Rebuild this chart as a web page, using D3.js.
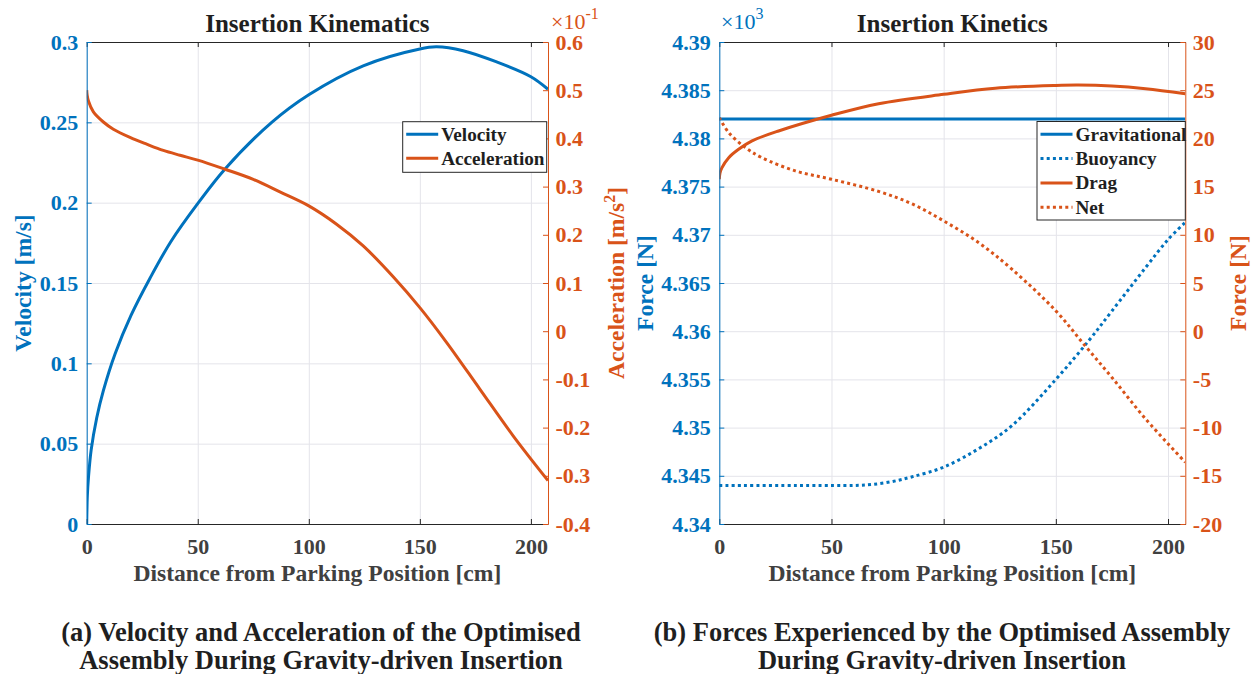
<!DOCTYPE html>
<html><head><meta charset="utf-8">
<script src="https://cdn.jsdelivr.net/npm/d3@7"></script>
<style>body{margin:0;background:#fff}svg{display:block}</style>
</head><body>
<svg id="c" width="1252" height="674"></svg>
<script>
// ---------------- DATA ----------------
const distTicks = [0, 50, 100, 150, 200];
const distMax = 207.7;

const velTicks = [0, 0.05, 0.1, 0.15, 0.2, 0.25, 0.3];
const velTickLabels = ["0", "0.05", "0.1", "0.15", "0.2", "0.25", "0.3"];
// acceleration axis is shown in units of 10^-1 m/s^2
const accTicks = [0.6, 0.5, 0.4, 0.3, 0.2, 0.1, 0, -0.1, -0.2, -0.3, -0.4];
const accTickLabels = ["0.6", "0.5", "0.4", "0.3", "0.2", "0.1", "0", "-0.1", "-0.2", "-0.3", "-0.4"];
// force (left) axis shown in units of 10^3 N
const forceTicks = [4.34, 4.345, 4.35, 4.355, 4.36, 4.365, 4.37, 4.375, 4.38, 4.385, 4.39];
const forceTickLabels = ["4.34", "4.345", "4.35", "4.355", "4.36", "4.365", "4.37", "4.375", "4.38", "4.385", "4.39"];
const forceRTicks = [-20, -15, -10, -5, 0, 5, 10, 15, 20, 25, 30];
const forceRTickLabels = ["-20", "-15", "-10", "-5", "0", "5", "10", "15", "20", "25", "30"];

const velX = [0, 0.3, 0.8, 2, 4.5, 7.5, 12.8, 20, 28.5, 38, 50.3, 62.3, 83.3, 100, 124.5, 150, 157.5, 169.5, 184.6, 200, 207.7];
const velV = [0, 0.018, 0.029, 0.046, 0.066, 0.083, 0.106, 0.13, 0.153, 0.176, 0.2, 0.221, 0.25, 0.2672, 0.2852, 0.2957, 0.297, 0.2946, 0.2876, 0.2784, 0.2706];

const accX = [0, 0.2, 0.75, 3, 7.5, 12, 19.5, 27, 34.5, 42, 50, 62.3, 75, 87, 100, 112.5, 124.5, 138, 150, 162, 177, 192, 207.7];
const accA = [0.50, 0.49, 0.478, 0.455, 0.434, 0.419, 0.402, 0.388, 0.375, 0.365, 0.355, 0.336, 0.315, 0.289, 0.26, 0.222, 0.177, 0.113, 0.049, -0.023, -0.12, -0.217, -0.31];

const gravX = [0, 207.7];
const gravF = [4.382, 4.382];

const buoyX = [0, 40, 60, 68, 77, 86, 100, 115.5, 130.4, 150, 164.6, 175, 190, 200, 207.7];
const buoyF = [4.344, 4.344, 4.344, 4.3441, 4.3444, 4.3449, 4.3459, 4.3478, 4.3502, 4.355, 4.359, 4.3621, 4.3666, 4.3695, 4.3713];

const dragX = [0, 0.3, 1.2, 4.2, 8.6, 14.6, 26.4, 50, 71, 100, 123, 150, 160, 175, 190, 207.7];
const dragF = [15.76, 16.4, 16.97, 18.0, 18.87, 19.74, 20.77, 22.4, 23.6, 24.57, 25.2, 25.5, 25.54, 25.44, 25.16, 24.64];

const netX = [0, 4.2, 11.6, 19, 33.9, 50, 71, 86, 100, 115.5, 130.4, 150, 163, 175, 190, 207.7];
const netF = [22.16, 20.6, 19.05, 18.0, 16.63, 15.76, 14.5, 13.2, 11.44, 9.2, 6.43, 2.11, -1.5, -4.8, -9.1, -13.6];

// ---------------- STYLE ----------------
const BLUE = "#0072BD", RED = "#D95319", DARK = "#262626", GRID = "#e4e4ea";
const FONT = "'Liberation Serif','Times New Roman',serif";
const svg = d3.select("#c").style("font-family", FONT);

function zip(xs, ys) { return xs.map((x, i) => [x, ys[i]]); }

function panel(opt) {
  const { x0, x1, y0, y1 } = opt;
  const x = d3.scaleLinear().domain([0, distMax]).range([x0, x1]);
  const yL = d3.scaleLinear().domain(opt.leftDomain).range([y1, y0]);
  const yR = d3.scaleLinear().domain(opt.rightDomain).range([y1, y0]);
  const g = svg.append("g");

  // grid
  g.append("g").attr("transform", `translate(0,${y1})`)
    .call(d3.axisBottom(x).tickValues(distTicks).tickSize(-(y1 - y0)).tickFormat(""))
    .call(s => { s.select(".domain").remove(); s.selectAll("line").attr("stroke", GRID); });
  g.append("g").attr("transform", `translate(${x0},0)`)
    .call(d3.axisLeft(yL).tickValues(opt.leftTicks).tickSize(-(x1 - x0)).tickFormat(""))
    .call(s => { s.select(".domain").remove(); s.selectAll("line").attr("stroke", GRID); });

  // series
  const clipId = "clip" + Math.round(x0);
  g.append("clipPath").attr("id", clipId).append("rect")
    .attr("x", x0).attr("y", y0 - 2).attr("width", x1 - x0).attr("height", y1 - y0 + 4);
  const sg = g.append("g").attr("clip-path", `url(#${clipId})`);
  opt.series.forEach(s => {
    const yS = s.axis === "L" ? yL : yR;
    const line = d3.line().x(d => x(d[0])).y(d => yS(d[1])).curve(d3.curveCatmullRom.alpha(0.5));
    sg.append("path").datum(s.data).attr("d", line).attr("fill", "none")
      .attr("stroke", s.color).attr("stroke-width", 3)
      .attr("stroke-dasharray", s.dotted ? "3,3.2" : null);
  });

  const fontAxis = s => s.attr("font-family", FONT).attr("font-size", 22).attr("font-weight", "bold");

  // bottom axis
  g.append("g").attr("transform", `translate(0,${y1})`)
    .call(d3.axisBottom(x).tickValues(distTicks).tickSizeInner(-5).tickSizeOuter(0).tickPadding(14))
    .call(fontAxis)
    .call(s => { s.selectAll("line,path").attr("stroke", DARK); s.selectAll("text").attr("fill", "#404040"); });
  // top axis
  g.append("g").attr("transform", `translate(0,${y0})`)
    .call(d3.axisTop(x).tickValues(distTicks).tickSizeInner(-5).tickSizeOuter(0).tickFormat(""))
    .call(s => { s.selectAll("line,path").attr("stroke", DARK); });
  // left axis
  g.append("g").attr("transform", `translate(${x0},0)`)
    .call(d3.axisLeft(yL).tickValues(opt.leftTicks).tickFormat((d, i) => opt.leftLabels[i])
      .tickSizeInner(-5).tickSizeOuter(0).tickPadding(8.5))
    .call(fontAxis)
    .call(s => { s.selectAll("line,path").attr("stroke", BLUE); s.selectAll("text").attr("fill", BLUE); });
  // right axis
  g.append("g").attr("transform", `translate(${x1},0)`)
    .call(d3.axisRight(yR).tickValues(opt.rightTicks).tickFormat((d, i) => opt.rightLabels[i])
      .tickSizeInner(-5).tickSizeOuter(0).tickPadding(7.5))
    .call(fontAxis)
    .call(s => { s.selectAll("line,path").attr("stroke", RED); s.selectAll("text").attr("fill", RED); });

  const cx = (x0 + x1) / 2;
  // title
  g.append("text").attr("x", cx).attr("y", 32).attr("text-anchor", "middle")
    .attr("font-size", 25).attr("font-weight", "bold").attr("fill", "#1f1f1f").text(opt.title);
  // x label
  g.append("text").attr("x", cx).attr("y", 581).attr("text-anchor", "middle")
    .attr("font-size", 23.6).attr("font-weight", "bold").attr("fill", "#404040")
    .text("Distance from Parking Position [cm]");

  // y labels
  const yl = g.append("text").attr("transform", `translate(${opt.yLeftLabelX},${(y0 + y1) / 2}) rotate(-90)`)
    .attr("text-anchor", "middle").attr("font-size", 23.6).attr("font-weight", "bold").attr("fill", BLUE);
  yl.text(opt.yLeftLabel);
  const yr = g.append("text").attr("transform", `translate(${opt.yRightLabelX},${(y0 + y1) / 2}) rotate(-90)`)
    .attr("text-anchor", "middle").attr("font-size", 23.6).attr("font-weight", "bold").attr("fill", RED);
  opt.yRightLabel.forEach(p => {
    const t = yr.append("tspan").text(p.t);
    if (p.sup) t.attr("dy", -9).attr("font-size", 16);
    if (p.down) t.attr("dy", 9);
  });

  // exponent
  const ex = g.append("text").attr("x", opt.expX).attr("y", 29).attr("font-size", 22)
    .attr("fill", opt.expColor);
  ex.append("tspan").text("×10");
  ex.append("tspan").attr("dy", -10).attr("font-size", 16).text(opt.expPow);

  // legend
  const L = opt.legend;
  const lg = g.append("g");
  lg.append("rect").attr("x", L.x).attr("y", L.y).attr("width", L.w).attr("height", L.h)
    .attr("fill", "#fff").attr("stroke", DARK).attr("stroke-width", 1);
  L.items.forEach((it, i) => {
    const yy = L.y + L.first + i * L.step;
    lg.append("line").attr("x1", L.x + 3.5).attr("x2", L.x + 35.5).attr("y1", yy).attr("y2", yy)
      .attr("stroke", it.color).attr("stroke-width", 3)
      .attr("stroke-dasharray", it.dotted ? "3,3.2" : null);
    lg.append("text").attr("x", L.x + 38.5).attr("y", yy).attr("dy", "0.33em")
      .attr("font-size", 19.2).attr("font-weight", "bold").attr("fill", "#1f1f1f").text(it.label);
  });

  // caption
  const cap = g.append("text").attr("text-anchor", "middle").attr("font-size", 26.5)
    .attr("font-weight", "bold").attr("fill", "#1f1f1f");
  opt.caption.forEach((c, i) => cap.append("tspan").attr("x", opt.captionX).attr("y", 641 + i * 27.5).text(c));
}

panel({
  x0: 86.7, x1: 548, y0: 42, y1: 524,
  leftDomain: [0, 0.3], rightDomain: [-0.4, 0.6],
  leftTicks: velTicks, leftLabels: velTickLabels,
  rightTicks: accTicks, rightLabels: accTickLabels,
  series: [
    { data: zip(velX, velV), axis: "L", color: BLUE },
    { data: zip(accX, accA), axis: "R", color: RED }
  ],
  title: "Insertion Kinematics",
  yLeftLabel: "Velocity [m/s]", yLeftLabelX: 31,
  yRightLabel: [{ t: "Acceleration [m/s" }, { t: "2", sup: true }, { t: "]", down: true }], yRightLabelX: 624,
  expX: 551, expColor: RED, expPow: "-1",
  legend: { x: 402.7, y: 121.7, w: 144, h: 50.6, first: 12.5, step: 24,
    items: [{ label: "Velocity", color: BLUE }, { label: "Acceleration", color: RED }] },
  caption: ["(a) Velocity and Acceleration of the Optimised", "Assembly During Gravity-driven Insertion"],
  captionX: 321
});

panel({
  x0: 719.3, x1: 1185.3, y0: 42, y1: 524,
  leftDomain: [4.34, 4.39], rightDomain: [-20, 30],
  leftTicks: forceTicks, leftLabels: forceTickLabels,
  rightTicks: forceRTicks, rightLabels: forceRTickLabels,
  series: [
    { data: zip(gravX, gravF), axis: "L", color: BLUE },
    { data: zip(buoyX, buoyF), axis: "L", color: BLUE, dotted: true },
    { data: zip(dragX, dragF), axis: "R", color: RED },
    { data: zip(netX, netF), axis: "R", color: RED, dotted: true }
  ],
  title: "Insertion Kinetics",
  yLeftLabel: "Force [N]", yLeftLabelX: 653,
  yRightLabel: [{ t: "Force [N]" }], yRightLabelX: 1246,
  expX: 721, expColor: BLUE, expPow: "3",
  legend: { x: 1037, y: 121.5, w: 148.3, h: 98.5, first: 12.8, step: 24.3,
    items: [{ label: "Gravitational", color: BLUE }, { label: "Buoyancy", color: BLUE, dotted: true },
            { label: "Drag", color: RED }, { label: "Net", color: RED, dotted: true }] },
  caption: ["(b) Forces Experienced by the Optimised Assembly", "During Gravity-driven Insertion"],
  captionX: 942
});
</script>
</body></html>
